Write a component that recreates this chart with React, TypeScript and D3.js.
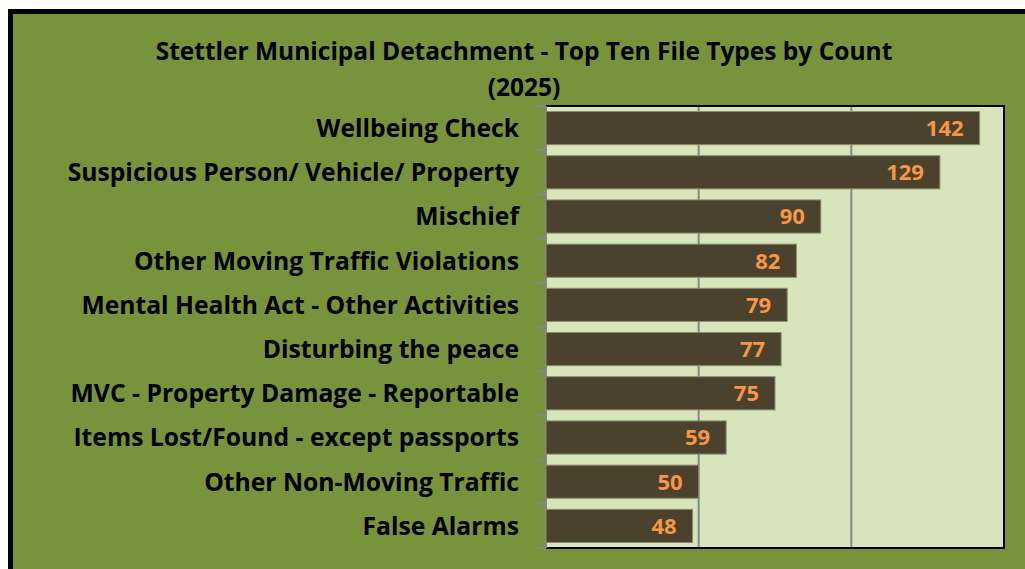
import React from "react";
import * as d3 from "d3";

const categories = [
  "Wellbeing Check",
  "Suspicious Person/ Vehicle/ Property",
  "Mischief",
  "Other Moving Traffic Violations",
  "Mental Health Act - Other Activities",
  "Disturbing the peace",
  "MVC - Property Damage - Reportable",
  "Items Lost/Found - except passports",
  "Other Non-Moving Traffic",
  "False Alarms",
];
const counts = [142, 129, 90, 82, 79, 77, 75, 59, 50, 48];
const gridValues = [50, 100];
const titleLines = ["Stettler Municipal Detachment - Top Ten File Types by Count", "(2025)"];

const W = 1025, H = 569;
const plot = { left: 546, right: 1004, top: 106, bottom: 548 };
const FONT = "'Open Sans', sans-serif";

export default function App() {
  const x = d3.scaleLinear().domain([0, 150]).range([plot.left, plot.right]);
  const y = d3.scaleBand<string>().domain(categories).range([plot.top, plot.bottom]).paddingInner(0.25).paddingOuter(0.125);
  const step = y.step();
  const boundaries = d3.range(categories.length + 1).map((i) => plot.top + i * step);
  return (
    <svg width={W} height={H} style={{ position: "absolute", left: 0, top: 0, display: "block" }} fontFamily={FONT}>
      <rect x={10.5} y={11.5} width={1200} height={1200} fill="#77933C" stroke="#000" strokeWidth={5} />
      <rect x={plot.left} y={plot.top} width={plot.right - plot.left} height={plot.bottom - plot.top} fill="#D8E4BC" stroke="#000" strokeWidth={2} />
      {gridValues.map((v) => (
        <line key={v} x1={x(v)} x2={x(v)} y1={plot.top + 1} y2={plot.bottom - 1} stroke="#868686" strokeWidth={2} />
      ))}
      <line x1={plot.left} x2={plot.left} y1={plot.top} y2={plot.bottom} stroke="#868686" strokeWidth={2} />
      {boundaries.map((b, i) => (
        <line key={i} x1={plot.left - 9} x2={plot.left} y1={b} y2={b} stroke="#868686" strokeWidth={2} />
      ))}
      {categories.map((c, i) => (
        <g key={c}>
          <rect x={x(0)} y={y(c)!} width={x(counts[i]) - x(0)} height={y.bandwidth()} fill="#4A422C" stroke="#8C8C6E" strokeWidth={1} />
          <text x={x(counts[i]) - 16} y={y(c)! + y.bandwidth() / 2} dy="0.36em" textAnchor="end" fill="#F79646" fontWeight="bold" fontSize={22}>
            {counts[i]}
          </text>
          <text x={519} y={y(c)! + y.bandwidth() / 2} dy="0.36em" textAnchor="end" fill="#000" fontWeight="bold" fontSize={24.7}>
            {c}
          </text>
        </g>
      ))}
      {titleLines.map((t, i) => (
        <text key={i} x={524} y={60 + i * 36} textAnchor="middle" fontWeight="bold" fontSize={24.5} fill="#000">
          {t}
        </text>
      ))}
    </svg>
  );
}
